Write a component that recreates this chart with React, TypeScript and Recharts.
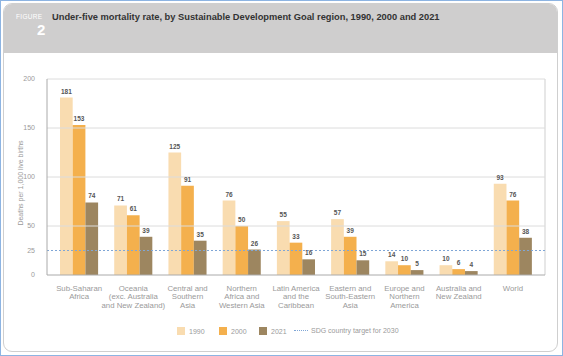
import { BarChart, Bar, XAxis, YAxis, ReferenceLine, LabelList, CartesianGrid } from 'recharts'

const regions = [
  'Sub-Saharan\nAfrica',
  'Oceania\n(exc. Australia\nand New Zealand)',
  'Central and\nSouthern\nAsia',
  'Northern\nAfrica and\nWestern Asia',
  'Latin America\nand the\nCaribbean',
  'Eastern and\nSouth-Eastern\nAsia',
  'Europe and\nNorthern\nAmerica',
  'Australia and\nNew Zealand',
  'World',
]
const rate1990 = [181, 71, 125, 76, 55, 57, 14, 10, 93]
const rate2000 = [153, 61, 91, 50, 33, 39, 10, 6, 76]
const rate2021 = [74, 39, 35, 26, 16, 15, 5, 4, 38]
const yTicks = [0, 25, 50, 100, 150, 200]
const gridValues = [50, 100, 150, 200]
const sdgTarget = 25

const c1990 = '#f9dcb0'
const c2000 = '#f4b04d'
const c2021 = '#9d8660'
const textGray = '#9a9a9a'
const font = '"Liberation Sans", Arial, sans-serif'

const data = regions.map((r, i) => ({
  region: r,
  y1990: rate1990[i],
  y2000: rate2000[i],
  y2021: rate2021[i],
}))

function RegionTick({ x, y, payload }: any) {
  const lines = String(payload.value).split('\n')
  return (
    <text x={x} y={y} textAnchor="middle" fill={textGray} fontSize={7.8} fontFamily={font}>
      {lines.map((l, i) => (
        <tspan key={i} x={x} dy={i === 0 ? 7.5 : 8.5}>{l}</tspan>
      ))}
    </text>
  )
}

const labelStyle = { fill: '#555', fontSize: 6.5, fontWeight: 700, fontFamily: font }

export default function App() {
  return (
    <div style={{ position: 'fixed', left: 0, top: 0, width: 563, height: 356, background: '#fff', fontFamily: font }}>
      <div style={{ position: 'absolute', left: 0, top: 0, width: 561, height: 354, border: '1px solid #8db4e2' }} />
      <div style={{ position: 'absolute', left: 3, top: 3, width: 553, height: 347, border: '1px solid #cfcfcf', borderRadius: 9, overflow: 'hidden' }}>
        <div style={{ height: 49, background: '#cfcece' }} />
      </div>
      <div style={{ position: 'absolute', left: 16, top: 13, fontSize: 6.5, color: '#fff', letterSpacing: 0.3 }}>FIGURE</div>
      <div style={{ position: 'absolute', left: 37, top: 21, fontSize: 15, fontWeight: 700, color: '#fff' }}>2</div>
      <div style={{ position: 'absolute', left: 52, top: 12, fontSize: 9.3, fontWeight: 700, color: '#333', whiteSpace: 'nowrap' }}>
        Under-five mortality rate, by Sustainable Development Goal region, 1990, 2000 and 2021
      </div>

      <div style={{ position: 'absolute', left: 0, top: 0 }}>
        <BarChart
          width={563}
          height={330}
          data={data}
          margin={{ top: 79, right: 18, left: 0, bottom: 0 }}
          barCategoryGap="30%"
          barGap={0}
          barSize={12.7}
        >
          <CartesianGrid
            horizontal={false}
            stroke="#cfcfcf"
            verticalCoordinatesGenerator={({ offset }: any) => [offset.left + offset.width]}
          />
          <XAxis
            dataKey="region"
            interval={0}
            tick={<RegionTick />}
            tickLine={false}
            axisLine={{ stroke: '#aaa' }}
            padding={{ left: 5, right: 5 }}
            height={55}
          />
          <YAxis
            domain={[0, 200]}
            ticks={yTicks}
            width={47}
            tickLine={false}
            axisLine={{ stroke: '#aaa' }}
            tick={{ fill: textGray, fontSize: 7, fontFamily: font }}
            tickMargin={6}
            label={{
              value: 'Deaths per 1,000 live births',
              angle: -90,
              position: 'insideLeft',
              dx: 16,
              dy: 6,
              style: { fill: textGray, fontSize: 7, fontFamily: font, textAnchor: 'middle' },
            }}
          />
          {gridValues.map(v => (
            <ReferenceLine key={v} y={v} stroke="#dcdcdc" strokeWidth={1} />
          ))}
          <Bar dataKey="y1990" fill={c1990} isAnimationActive={false}>
            <LabelList dataKey="y1990" position="top" offset={4} style={labelStyle} />
          </Bar>
          <Bar dataKey="y2000" fill={c2000} isAnimationActive={false}>
            <LabelList dataKey="y2000" position="top" offset={4} style={labelStyle} />
          </Bar>
          <Bar dataKey="y2021" fill={c2021} isAnimationActive={false}>
            <LabelList dataKey="y2021" position="top" offset={4} style={labelStyle} />
          </Bar>
          <ReferenceLine y={sdgTarget} stroke="#7fa6d6" strokeDasharray="2 2" strokeWidth={1} />
        </BarChart>
      </div>

      <div style={{ position: 'absolute', top: 325, left: 0, height: 12, width: 563, fontSize: 7, color: textGray }}>
        {[
          { label: '1990', color: c1990, x: 177 },
          { label: '2000', color: c2000, x: 219 },
          { label: '2021', color: c2021, x: 259 },
        ].map(item => (
          <div key={item.label} style={{ position: 'absolute', left: item.x, top: 2, display: 'flex', alignItems: 'center' }}>
            <div style={{ width: 8, height: 8, background: item.color, marginRight: 4 }} />
            <span>{item.label}</span>
          </div>
        ))}
        <div style={{ position: 'absolute', left: 294, top: 2, display: 'flex', alignItems: 'center' }}>
          <div style={{ width: 14, borderTop: '1px dotted #7fa6d6', marginRight: 3, height: 0 }} />
          <span>SDG country target for 2030</span>
        </div>
      </div>
    </div>
  )
}
